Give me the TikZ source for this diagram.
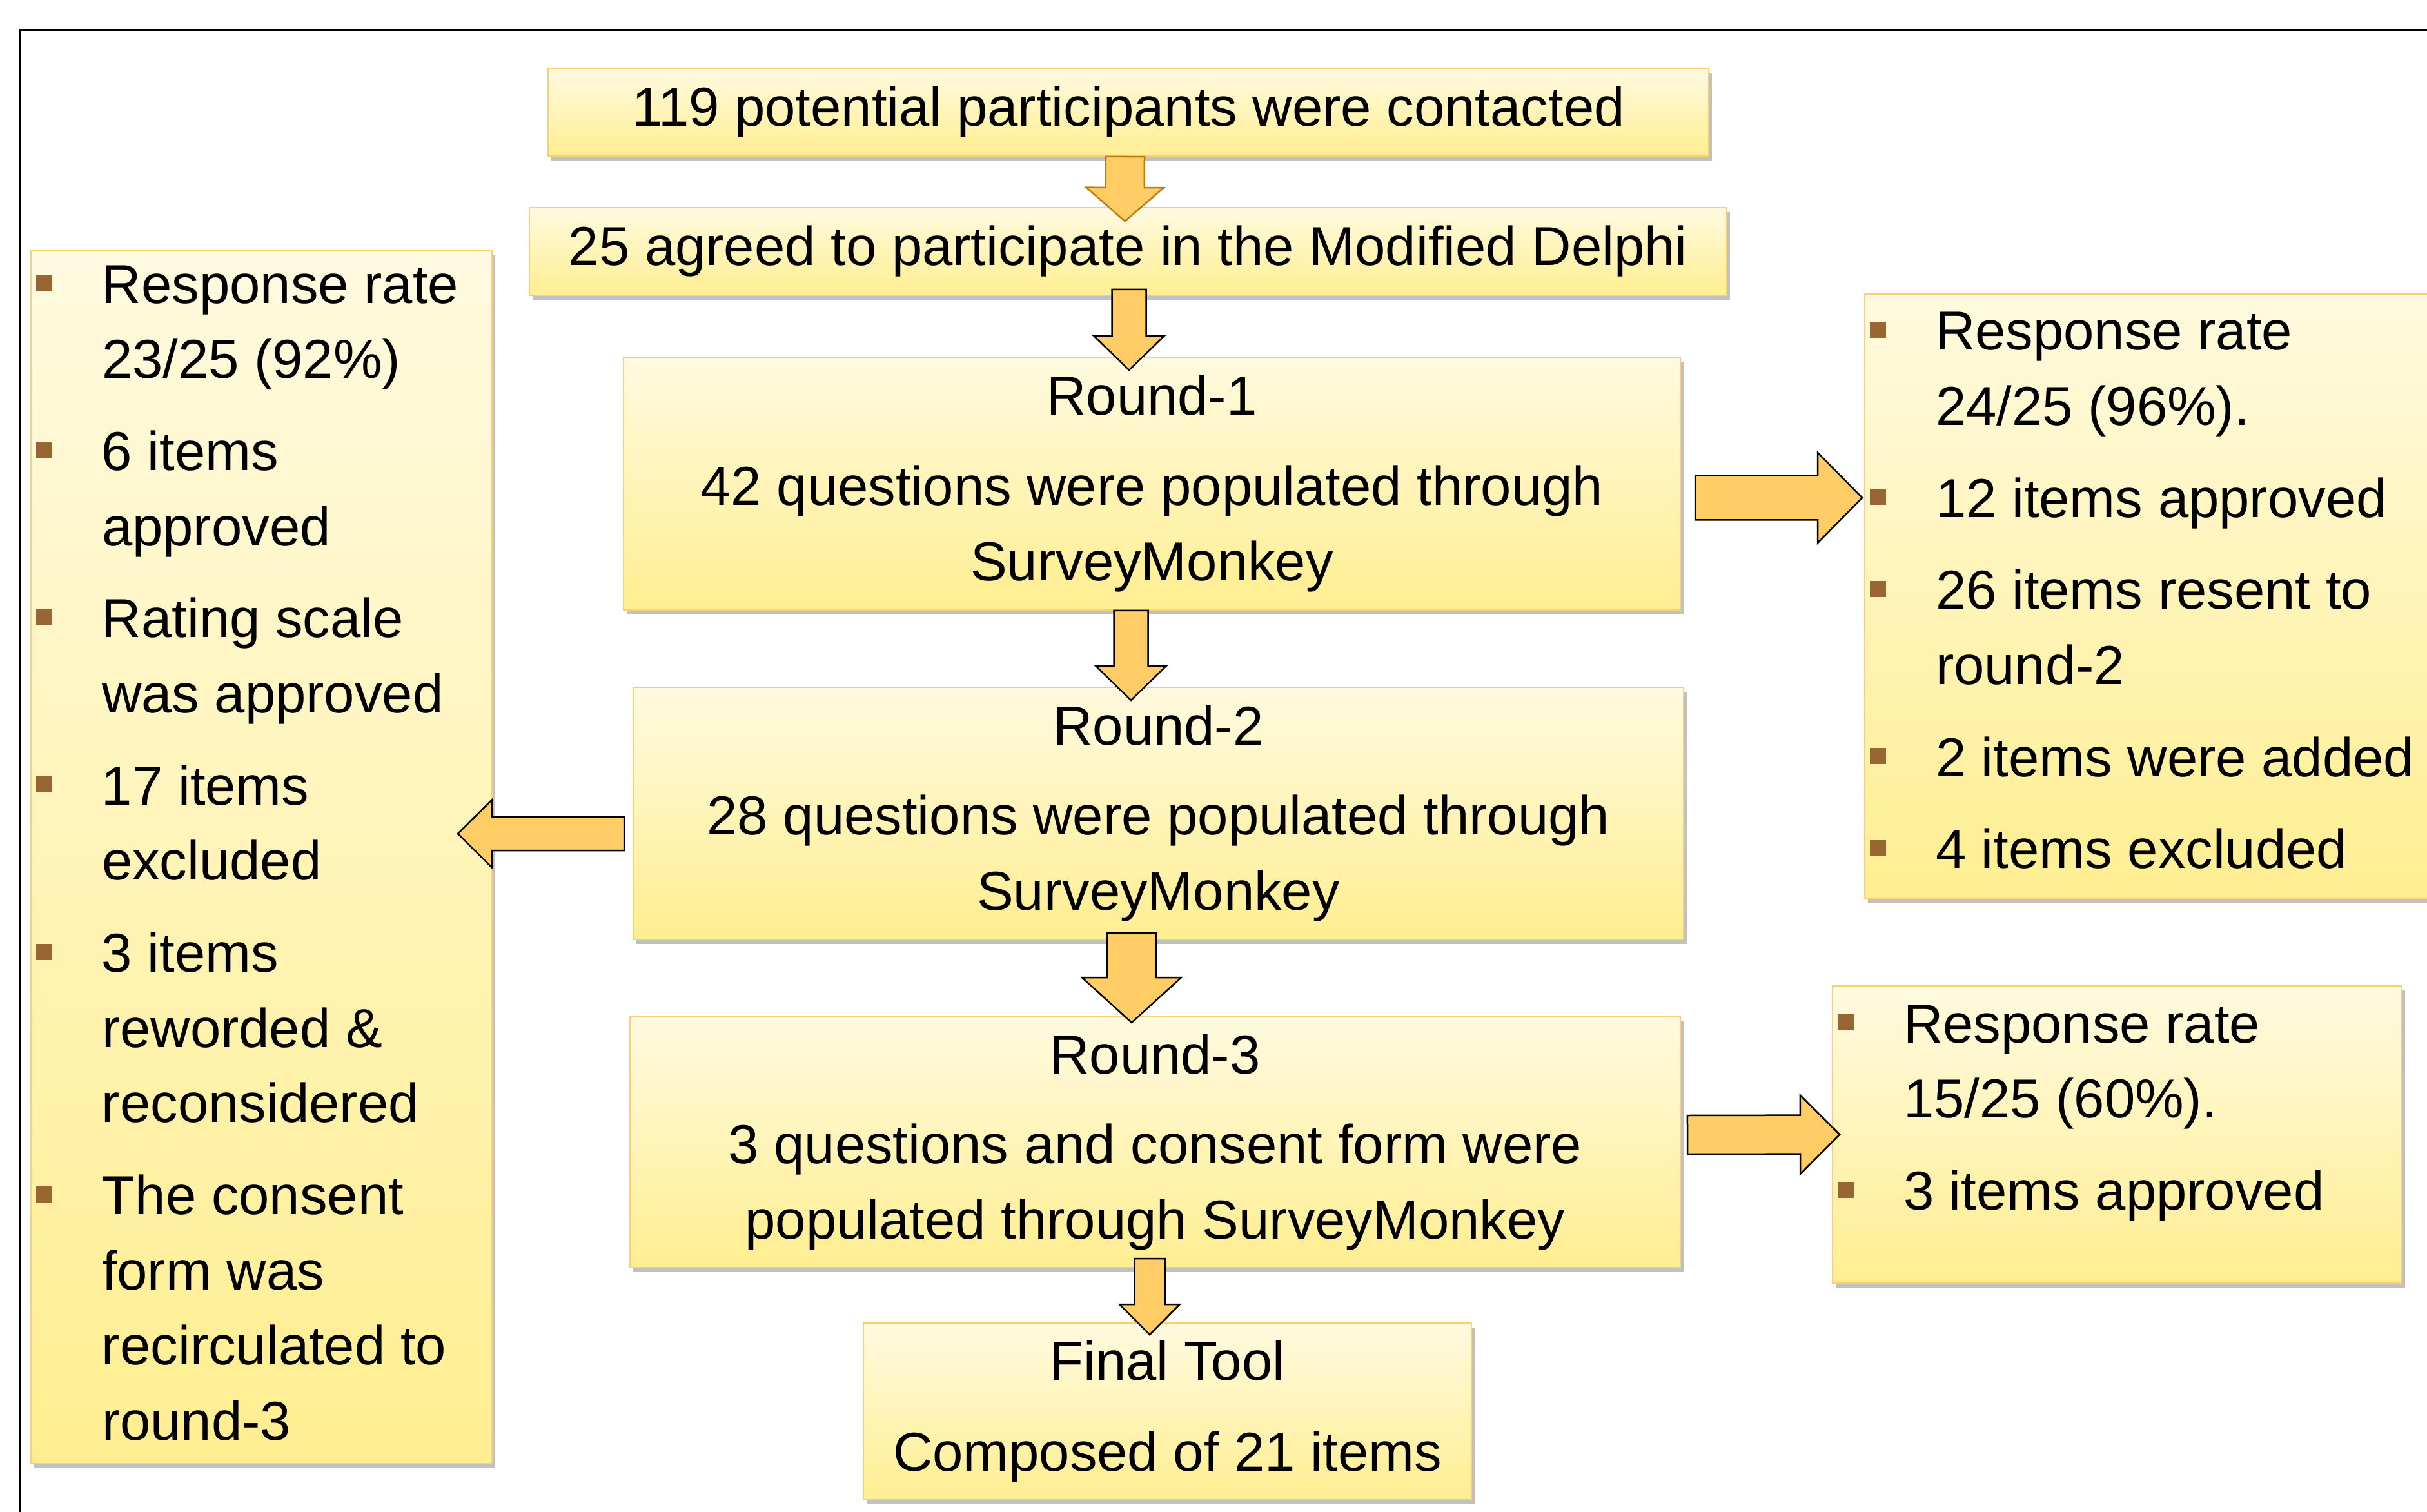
\documentclass[tikz,border=0pt]{standalone}
\usepackage{fontspec}
\setmainfont{Liberation Sans}
\usepackage{xcolor}
\usepackage{enumitem}
\usetikzlibrary{calc,shadows}

\definecolor{boxtop}{RGB}{255,250,224}
\definecolor{boxbot}{RGB}{255,238,145}
\definecolor{boxedge}{RGB}{255,206,110}
\definecolor{arrowfill}{RGB}{255,204,102}
\definecolor{arrowedge}{RGB}{185,125,20}
\definecolor{bulletbrown}{RGB}{153,102,51}

\newcommand{\sqbullet}{\textcolor{bulletbrown}{\rule[0.19cm]{0.25cm}{0.25cm}}}
\newlist{roundlist}{itemize}{1}
\setlist[roundlist]{label=\sqbullet,leftmargin=1.02cm,labelwidth=1.02cm,labelsep=0pt,align=left,
  itemsep=0.26cm,parsep=0pt,topsep=0pt,partopsep=0pt}

\begin{document}
\begin{tikzpicture}[
    delphibox/.style={draw=boxedge, line width=0.02cm, top color=boxtop, bottom color=boxbot,
      drop shadow={shadow xshift=0.05cm, shadow yshift=-0.07cm, opacity=0.35, fill=black!70},
      inner xsep=0.08cm, inner ysep=0pt, font=\fontsize{24.2}{33.2}\selectfont},
    flowbox/.style={delphibox, align=center},
    % block arrow: shaft half width, head half width, head length
    blockarrow/.style n args={3}{fill=arrowfill, draw=black, line width=0.025cm, line join=miter,
      to path={let \p1=(\tikztostart), \p2=(\tikztotarget), \p3=($(\p2)!#3!(\p1)$) in
        ($(\p1)!#1!90:(\p2)$) -- ($(\p3)!#1!90:(\p2)$) -- ($(\p3)!#2!90:(\p2)$) -- (\p2)
        -- ($(\p3)!#2!-90:(\p2)$) -- ($(\p3)!#1!-90:(\p2)$) -- ($(\p1)!#1!-90:(\p2)$) -- cycle}}]

\useasboundingbox (0,0) rectangle (37.64,-23.45);

% Outer frame (only its top and left edges fall on the page)
\draw[line width=0.03cm] (0.30,-23.8) -- (0.30,-0.47) -- (38.0,-0.47);

% Main flow of the study
\node[flowbox, minimum width=18.00cm, minimum height=1.36cm] (contacted) at (17.50,-1.74)
  {119 potential participants were contacted};
\node[flowbox, minimum width=18.57cm, minimum height=1.36cm] (agreed) at (17.495,-3.90)
  {25 agreed to participate in the Modified Delphi};
\node[flowbox, minimum width=16.39cm, minimum height=3.92cm] (round1) at (17.865,-7.50)
  {Round-1\\[0.23cm]42 questions were populated through\\SurveyMonkey};
\node[flowbox, minimum width=16.29cm, minimum height=3.91cm] (round2) at (17.965,-12.615)
  {Round-2\\[0.23cm]28 questions were populated through\\SurveyMonkey};
\node[flowbox, minimum width=16.29cm, minimum height=3.89cm] (round3) at (17.915,-17.715)
  {Round-3\\[0.23cm]3 questions and consent form were\\populated through SurveyMonkey};
\node[flowbox, minimum width=9.43cm, minimum height=2.74cm] (final) at (18.105,-21.89)
  {Final Tool\\[0.25cm]Composed of 21 items};

% Outcome of each round
\node[delphibox, minimum width=7.15cm, minimum height=18.81cm] (round2notes) at (4.055,-13.295)
  {\begin{minipage}{6.99cm}\raggedright
   \begin{roundlist}
     \item Response rate\\23/25 (92\%)
     \item 6 items\\approved
     \item Rating scale\\was approved
     \item 17 items\\excluded
     \item 3 items\\reworded \&\\reconsidered
     \item The consent\\form was\\recirculated to\\round-3
   \end{roundlist}\par\kern0.13cm
   \end{minipage}};
\node[delphibox, minimum width=9.00cm, minimum height=9.38cm] (round1notes) at (33.42,-9.25)
  {\begin{minipage}{8.84cm}\raggedright
   \begin{roundlist}
     \item Response rate\\24/25 (96\%).
     \item 12 items approved
     \item 26 items resent to\\round-2
     \item 2 items were added
     \item 4 items excluded
   \end{roundlist}\par\kern0.18cm
   \end{minipage}};
\node[delphibox, minimum width=8.83cm, minimum height=4.61cm] (round3notes) at (32.835,-17.595)
  {\begin{minipage}{8.67cm}\raggedright
   \begin{roundlist}
     \item Response rate\\15/25 (60\%).
     \item 3 items approved
   \end{roundlist}\par\kern0.66cm
   \end{minipage}};

% Block arrows down the flow
\draw[blockarrow={0.30cm}{0.60cm}{0.52cm}, draw=arrowedge]
  ([xshift=-0.05cm]contacted.south) to ([xshift=-0.05cm,yshift=-0.22cm]agreed.north);
\draw[blockarrow={0.265cm}{0.545cm}{0.53cm}]
  ([xshift=0.015cm,yshift=0.10cm]agreed.south) to ([xshift=-0.355cm,yshift=-0.21cm]round1.north);
\draw[blockarrow={0.265cm}{0.545cm}{0.53cm}]
  ([xshift=-0.325cm]round1.south) to ([xshift=-0.425cm,yshift=-0.21cm]round2.north);
\draw[blockarrow={0.38cm}{0.77cm}{0.70cm}]
  ([xshift=-0.415cm,yshift=0.11cm]round2.south) to ([xshift=-0.365cm,yshift=-0.10cm]round3.north);
\draw[blockarrow={0.235cm}{0.465cm}{0.47cm}]
  ([xshift=-0.085cm,yshift=0.15cm]round3.south) to ([xshift=-0.275cm,yshift=-0.19cm]final.north);

% Block arrows out to the side boxes
\draw[blockarrow={0.345cm}{0.70cm}{0.69cm}]
  ([xshift=0.22cm,yshift=-0.22cm]round1.east) to ([xshift=-0.03cm,yshift=1.53cm]round1notes.west);
\draw[blockarrow={0.26cm}{0.525cm}{0.53cm}]
  ([xshift=-0.13cm,yshift=-0.315cm]round2.west) to ([xshift=-0.54cm,yshift=0.365cm]round2notes.east);
\draw[blockarrow={0.30cm}{0.61cm}{0.61cm}]
  ([xshift=0.10cm,yshift=0.115cm]round3.east) to ([xshift=0.12cm]round3notes.west);

\end{tikzpicture}
\end{document}
